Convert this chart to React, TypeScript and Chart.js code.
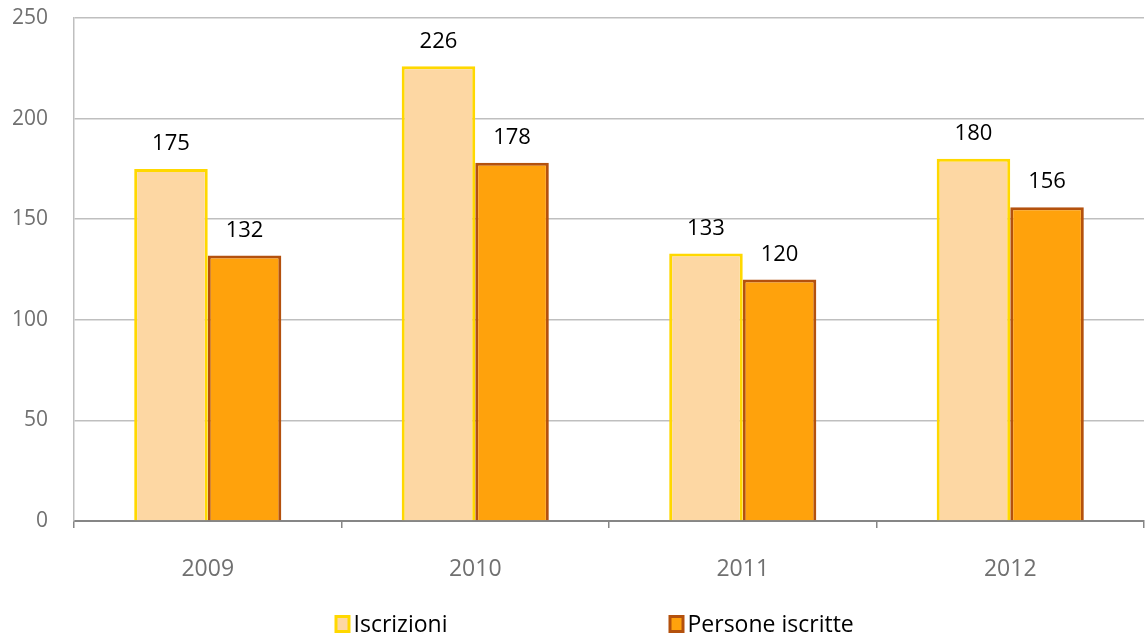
import React, { useEffect, useRef } from 'react';
import { Chart, registerables } from 'chart.js';

Chart.register(...registerables);

const categories = ['2009', '2010', '2011', '2012'];
const iscrizioni = [175, 226, 133, 180];
const personeIscritte = [132, 178, 120, 156];
const seriesNames = ['Iscrizioni', 'Persone iscritte'];
const yMin = 0;
const yMax = 250;
const yStep = 50;

const FONT = '"Open Sans", "Liberation Sans", sans-serif';
const fills = ['#FDD7A3', '#FFA20C'];
const borders = ['#FFD800', '#B4510D'];

const valueLabels = {
  id: 'valueLabels',
  afterDatasetsDraw(chart: any) {
    const ctx = chart.ctx;
    ctx.save();
    ctx.font = `22px ${FONT}`;
    ctx.fillStyle = '#000000';
    ctx.textAlign = 'center';
    ctx.textBaseline = 'middle';
    chart.data.datasets.forEach((ds: any, i: number) => {
      const meta = chart.getDatasetMeta(i);
      meta.data.forEach((el: any, j: number) => {
        ctx.fillText(String(ds.data[j]), el.x, el.y - 25);
      });
    });
    ctx.restore();
  },
};

const bottomLegend = {
  id: 'bottomLegend',
  afterDraw(chart: any) {
    const ctx = chart.ctx;
    const cx = chart.width / 2;
    const y = 624;
    const starts = [cx - 238, cx + 96];
    ctx.save();
    ctx.font = `23px ${FONT}`;
    ctx.textBaseline = 'middle';
    ctx.textAlign = 'left';
    chart.data.datasets.forEach((ds: any, i: number) => {
      const x = starts[i];
      ctx.fillStyle = ds.borderColor;
      ctx.fillRect(x, y - 9, 16, 18);
      ctx.fillStyle = ds.backgroundColor;
      ctx.fillRect(x + 3, y - 6, 10, 12);
      ctx.fillStyle = '#000000';
      ctx.fillText(ds.label, x + 19, y + 1);
    });
    ctx.restore();
  },
};

export default function App() {
  const canvasRef = useRef<HTMLCanvasElement | null>(null);

  useEffect(() => {
    document.body.style.margin = '0';
    const canvas = canvasRef.current;
    if (!canvas) return;
    const chart = new Chart(canvas, {
      type: 'bar',
      data: {
        labels: categories,
        datasets: [
          {
            label: seriesNames[0],
            data: iscrizioni,
            backgroundColor: fills[0],
            borderColor: borders[0],
            borderWidth: 3,
            categoryPercentage: 0.55,
            barPercentage: 1.0,
          },
          {
            label: seriesNames[1],
            data: personeIscritte,
            backgroundColor: fills[1],
            borderColor: borders[1],
            borderWidth: 3,
            categoryPercentage: 0.55,
            barPercentage: 1.0,
          },
        ],
      },
      options: {
        animation: false,
        responsive: true,
        maintainAspectRatio: false,
        layout: { padding: { top: 18, right: 1, bottom: 48, left: 0 } },
        plugins: {
          legend: { display: false },
          tooltip: { enabled: false },
        },
        scales: {
          x: {
            grid: {
              offset: true,
              drawOnChartArea: false,
              drawTicks: true,
              tickLength: 7,
              color: '#868686',
              lineWidth: 1.5,
            },
            border: { color: '#868686', width: 2 },
            ticks: {
              color: '#707070',
              font: { family: FONT, size: 23 },
              padding: 28,
            },
            afterFit(scale: any) {
              scale.height = 70;
            },
          },
          y: {
            min: yMin,
            max: yMax,
            ticks: {
              stepSize: yStep,
              color: '#707070',
              font: { family: FONT, size: 21 },
              padding: 0,
            },
            grid: {
              color: '#BFBFBF',
              lineWidth: 1.5,
              drawTicks: true,
              tickLength: 26,
              tickColor: 'rgba(0,0,0,0)',
            },
            border: { color: '#BFBFBF', width: 1.5 },
            afterFit(scale: any) {
              scale.width = 74;
            },
          },
        },
      },
      plugins: [valueLabels, bottomLegend],
    });
    return () => chart.destroy();
  }, []);

  return (
    <div style={{ position: 'relative', width: 1145, height: 639 }}>
      <canvas ref={canvasRef} />
    </div>
  );
}
